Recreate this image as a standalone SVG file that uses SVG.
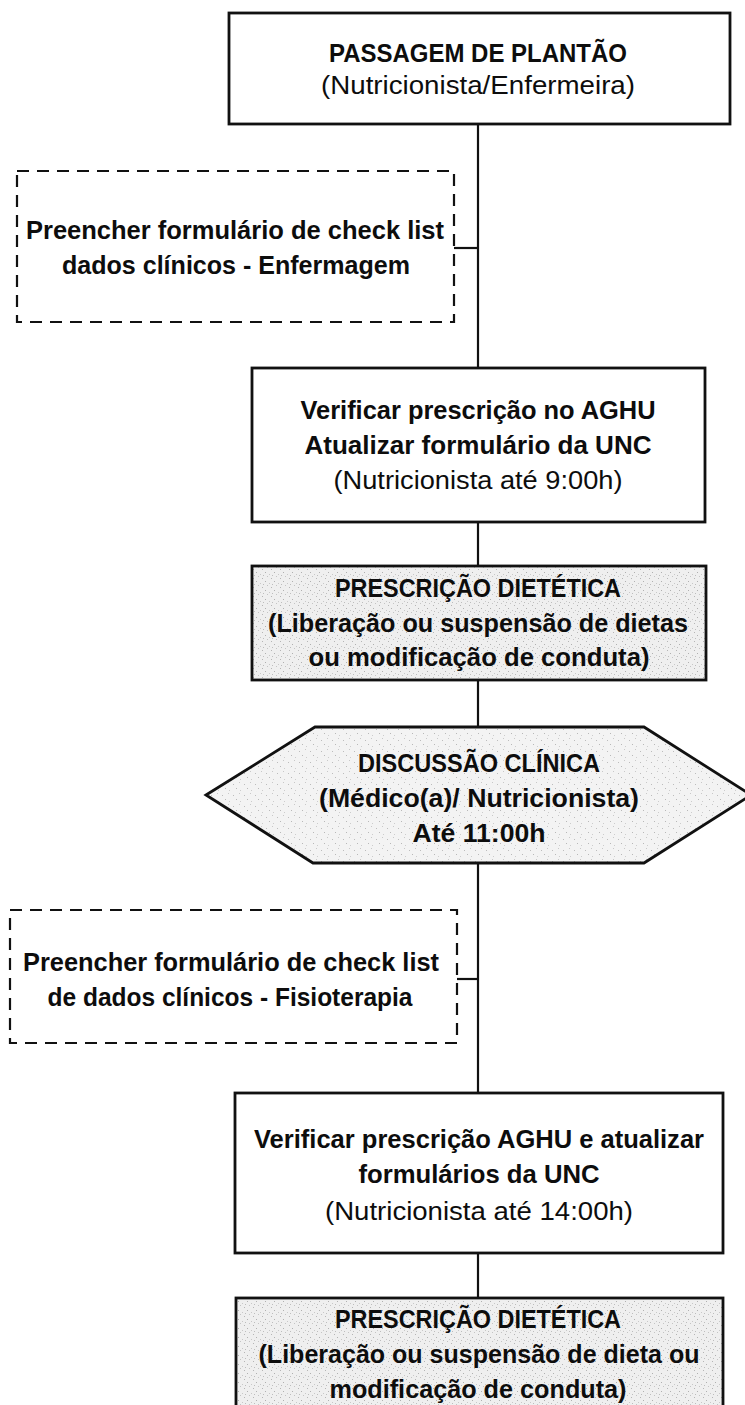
<svg xmlns="http://www.w3.org/2000/svg" width="745" height="1405" viewBox="0 0 745 1405">
  <defs>
    <pattern id="stipple" width="9" height="9" patternUnits="userSpaceOnUse">
      <rect width="9" height="9" fill="#efefef"/>
      <rect x="1" y="2" width="1" height="1" fill="#b5b5b5"/>
      <rect x="6" y="0" width="1" height="1" fill="#c4c4c4"/>
      <rect x="4" y="5" width="1" height="1" fill="#b0b0b0"/>
      <rect x="8" y="7" width="1" height="1" fill="#c8c8c8"/>
      <rect x="2" y="8" width="1" height="1" fill="#bdbdbd"/>
    </pattern>
    <pattern id="stipple2" width="11" height="11" patternUnits="userSpaceOnUse">
      <rect width="11" height="11" fill="#f3f3f3"/>
      <rect x="2" y="3" width="1" height="1" fill="#bcbcbc"/>
      <rect x="8" y="1" width="1" height="1" fill="#c8c8c8"/>
      <rect x="5" y="7" width="1" height="1" fill="#b8b8b8"/>
      <rect x="9" y="9" width="1" height="1" fill="#cccccc"/>
    </pattern>
    <style>
      .box { fill: #ffffff; stroke: #111111; stroke-width: 2.8; }
      .shade { fill: url(#stipple); stroke: #111111; stroke-width: 2.8; }
      .hex { fill: url(#stipple2); stroke: #111111; stroke-width: 2.8; stroke-linejoin: miter; }
      .dash { fill: none; stroke: #111111; stroke-width: 2.2; stroke-dasharray: 12 8; }
      .conn { fill: none; stroke: #111111; stroke-width: 2.2; }
      text { font-family: "Liberation Sans", Arial, sans-serif; font-size: 25.5px; fill: #0d0d0d; text-anchor: middle; }
      .b { font-weight: bold; }
      .r { font-weight: normal; }
    </style>
  </defs>
  <rect x="0" y="0" width="745" height="1405" fill="#ffffff"/>

  <g id="connectors">
    <line class="conn" x1="478" y1="124" x2="478" y2="368"/>
    <line class="conn" x1="454" y1="248" x2="478" y2="248"/>
    <line class="conn" x1="478" y1="522" x2="478" y2="566"/>
    <line class="conn" x1="478" y1="680" x2="478" y2="727"/>
    <line class="conn" x1="478" y1="863" x2="478" y2="1093"/>
    <line class="conn" x1="457" y1="979" x2="478" y2="979"/>
    <line class="conn" x1="478" y1="1253" x2="478" y2="1298"/>
  </g>

  <g id="passagem">
    <rect class="box" x="229" y="13" width="501" height="111"/>
    <text class="b" x="478" y="62" textLength="298" lengthAdjust="spacingAndGlyphs">PASSAGEM DE PLANTÃO</text>
    <text class="r" x="478" y="94" textLength="314" lengthAdjust="spacingAndGlyphs">(Nutricionista/Enfermeira)</text>
  </g>

  <g id="checklist-enfermagem">
    <rect class="dash" x="17" y="171" width="437" height="151"/>
    <text class="b" x="235" y="239" textLength="418" lengthAdjust="spacingAndGlyphs">Preencher formulário de check list</text>
    <text class="b" x="236" y="274" textLength="348" lengthAdjust="spacingAndGlyphs">dados clínicos - Enfermagem</text>
  </g>

  <g id="verificar-9h">
    <rect class="box" x="252" y="368" width="453" height="154"/>
    <text class="b" x="478" y="419" textLength="355" lengthAdjust="spacingAndGlyphs">Verificar prescrição no AGHU</text>
    <text class="b" x="478" y="454" textLength="347" lengthAdjust="spacingAndGlyphs">Atualizar formulário da UNC</text>
    <text class="r" x="478" y="489" textLength="289" lengthAdjust="spacingAndGlyphs">(Nutricionista até 9:00h)</text>
  </g>

  <g id="prescricao-1">
    <rect class="shade" x="252" y="566" width="454" height="114"/>
    <text class="b" x="478" y="597" textLength="286" lengthAdjust="spacingAndGlyphs">PRESCRIÇÃO DIETÉTICA</text>
    <text class="b" x="478" y="632" textLength="420" lengthAdjust="spacingAndGlyphs">(Liberação ou suspensão de dietas</text>
    <text class="b" x="479" y="666" textLength="341" lengthAdjust="spacingAndGlyphs">ou modificação de conduta)</text>
  </g>

  <g id="discussao">
    <polygon class="hex" points="206,795 315,727 644,727 751,795 644,863 313,863"/>
    <text class="b" x="479" y="772" textLength="242" lengthAdjust="spacingAndGlyphs">DISCUSSÃO CLÍNICA</text>
    <text class="b" x="479" y="807" textLength="320" lengthAdjust="spacingAndGlyphs">(Médico(a)/ Nutricionista)</text>
    <text class="b" x="479" y="842" textLength="133" lengthAdjust="spacingAndGlyphs">Até 11:00h</text>
  </g>

  <g id="checklist-fisioterapia">
    <rect class="dash" x="10" y="910" width="447" height="133"/>
    <text class="b" x="231" y="971" textLength="416" lengthAdjust="spacingAndGlyphs">Preencher formulário de check list</text>
    <text class="b" x="230" y="1006" textLength="365" lengthAdjust="spacingAndGlyphs">de dados clínicos - Fisioterapia</text>
  </g>

  <g id="verificar-14h">
    <rect class="box" x="235" y="1093" width="488" height="160"/>
    <text class="b" x="479" y="1148" textLength="450" lengthAdjust="spacingAndGlyphs">Verificar prescrição AGHU e atualizar</text>
    <text class="b" x="479" y="1183" textLength="241" lengthAdjust="spacingAndGlyphs">formulários da UNC</text>
    <text class="r" x="479" y="1220" textLength="308" lengthAdjust="spacingAndGlyphs">(Nutricionista até 14:00h)</text>
  </g>

  <g id="prescricao-2">
    <rect class="shade" x="236" y="1298" width="487" height="120"/>
    <text class="b" x="478" y="1328" textLength="286" lengthAdjust="spacingAndGlyphs">PRESCRIÇÃO DIETÉTICA</text>
    <text class="b" x="479" y="1363" textLength="441" lengthAdjust="spacingAndGlyphs">(Liberação ou suspensão de dieta ou</text>
    <text class="b" x="478" y="1398" textLength="297" lengthAdjust="spacingAndGlyphs">modificação de conduta)</text>
  </g>
</svg>
